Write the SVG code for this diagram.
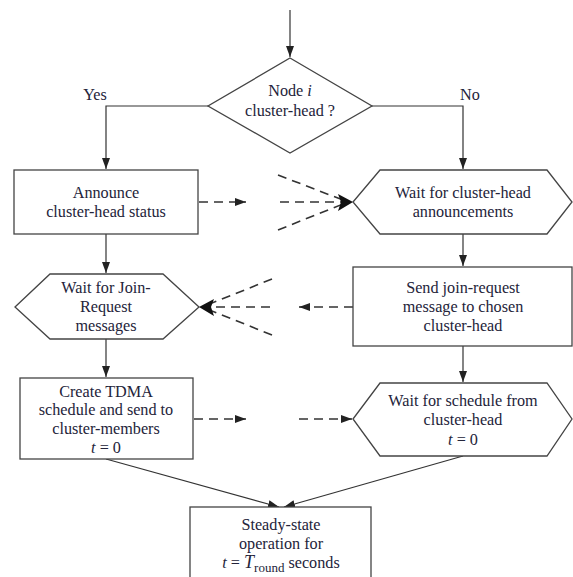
<svg xmlns="http://www.w3.org/2000/svg" width="573" height="577" viewBox="0 0 573 577">
<defs>
<marker id="ah" markerWidth="12" markerHeight="10" refX="11" refY="4" orient="auto" markerUnits="userSpaceOnUse">
<path d="M0,0 L11,4 L0,8 Z" fill="#222"/>
</marker>
<style>
.n{fill:#fff;stroke:#444;stroke-width:1.3}
.c{fill:none;stroke:#333;stroke-width:1.2}
.d{fill:none;stroke:#333;stroke-width:1.6;stroke-dasharray:9 6}
text{font-family:"Liberation Serif","Times New Roman",serif;font-size:16.2px;fill:#24243a;text-anchor:middle}
.bigah{fill:#111}
</style>
</defs>
<rect width="573" height="577" fill="#fff"/>
<g id="connectors">
<line class="c" x1="290" y1="10" x2="290" y2="57" marker-end="url(#ah)"/>
<polyline class="c" points="208,106 106,106 106,169" marker-end="url(#ah)"/>
<polyline class="c" points="372,106 463,106 463,169" marker-end="url(#ah)"/>
<line class="c" x1="106" y1="234" x2="106" y2="273" marker-end="url(#ah)"/>
<line class="c" x1="463" y1="234" x2="463" y2="266" marker-end="url(#ah)"/>
<line class="c" x1="106" y1="339" x2="106" y2="377" marker-end="url(#ah)"/>
<line class="c" x1="463" y1="346" x2="463" y2="382" marker-end="url(#ah)"/>
<line class="c" x1="106" y1="459" x2="279" y2="507" marker-end="url(#ah)"/>
<line class="c" x1="463" y1="456" x2="284" y2="507" marker-end="url(#ah)"/>
<line class="d" x1="199" y1="202" x2="246" y2="202" marker-end="url(#ah)"/>
<line class="d" x1="278" y1="175" x2="343" y2="200"/>
<line class="d" x1="280" y1="202" x2="343" y2="202"/>
<line class="d" x1="278" y1="230" x2="343" y2="204"/>
<path class="bigah" d="M353,202 L338,194 L341,202 L338,211 Z"/>
<line class="d" x1="353" y1="307" x2="299" y2="307" marker-end="url(#ah)"/>
<line class="d" x1="272" y1="279" x2="207" y2="305"/>
<line class="d" x1="270" y1="307" x2="207" y2="307"/>
<line class="d" x1="272" y1="335" x2="207" y2="309"/>
<path class="bigah" d="M199,307 L214,299 L211,307 L214,316 Z"/>
<line class="d" x1="194" y1="419" x2="246" y2="419" marker-end="url(#ah)"/>
<line class="d" x1="299" y1="419" x2="352" y2="419" marker-end="url(#ah)"/>
</g>
<text x="95" y="100">Yes</text>
<text x="470" y="100">No</text>
<g id="decision">
<polygon class="n" points="290,58 372,106 290,153 208,106"/>
<text x="290" y="96">Node <tspan font-style="italic">i</tspan></text>
<text x="290" y="116">cluster-head ?</text>
</g>
<g id="announce">
<rect class="n" x="14" y="170" width="184" height="64"/>
<text x="106" y="198">Announce</text>
<text x="106" y="217">cluster-head status</text>
</g>
<g id="wait-announce">
<polygon class="n" points="353,202 380,170 547,170 572,202 547,234 380,234"/>
<text x="463" y="198">Wait for cluster-head</text>
<text x="463" y="217">announcements</text>
</g>
<g id="wait-join">
<polygon class="n" points="15,307 50,274 163,274 199,307 163,339 50,339"/>
<text x="106" y="293">Wait for Join-</text>
<text x="106" y="312">Request</text>
<text x="106" y="331">messages</text>
</g>
<g id="send-join">
<rect class="n" x="353" y="267" width="219" height="79"/>
<text x="463" y="293">Send join-request</text>
<text x="463" y="312">message to chosen</text>
<text x="463" y="331">cluster-head</text>
</g>
<g id="create-tdma">
<rect class="n" x="20" y="378" width="173" height="81"/>
<text x="106" y="397">Create TDMA</text>
<text x="106" y="415">schedule and send to</text>
<text x="106" y="434">cluster-members</text>
<text x="106" y="453"><tspan font-style="italic">t</tspan> = 0</text>
</g>
<g id="wait-schedule">
<polygon class="n" points="353,419 380,383 547,383 572,419 547,456 380,456"/>
<text x="463" y="406">Wait for schedule from</text>
<text x="463" y="425">cluster-head</text>
<text x="463" y="445"><tspan font-style="italic">t</tspan> = 0</text>
</g>
<g id="steady">
<rect class="n" x="190" y="507" width="181" height="80"/>
<text x="281" y="530">Steady-state</text>
<text x="281" y="549">operation for</text>
<text x="281" y="568"><tspan font-style="italic">t</tspan> = <tspan font-style="italic" font-size="18">T</tspan><tspan font-size="13" dy="4">round</tspan><tspan dy="-4"> seconds</tspan></text>
</g>
</svg>
